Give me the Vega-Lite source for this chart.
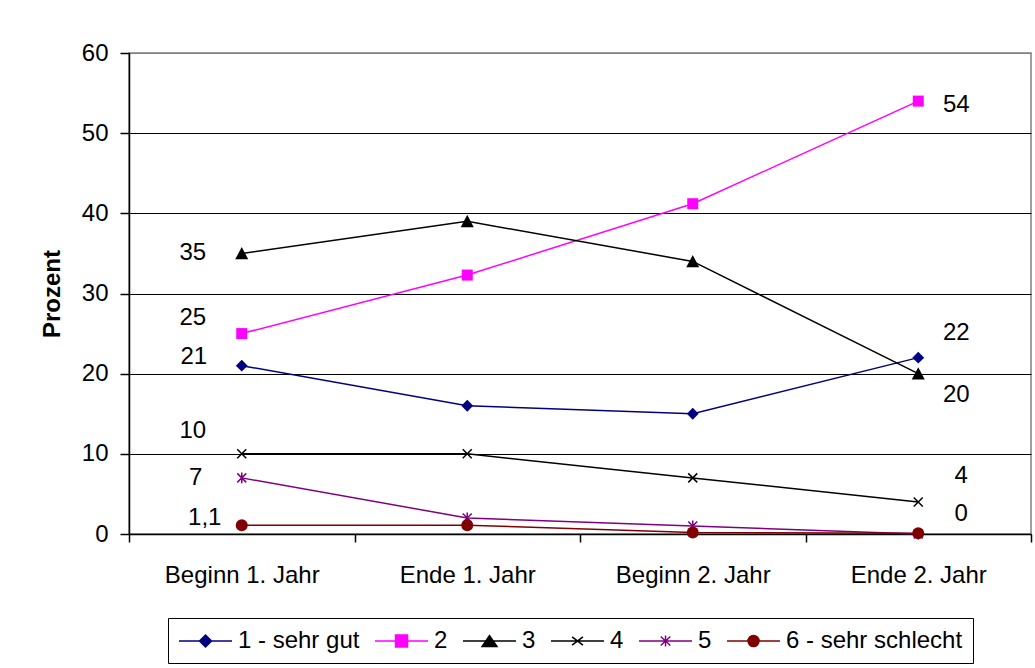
{
  "$schema": "https://vega.github.io/schema/vega-lite/v6.json",
  "autosize": {"type": "none"},
  "width": 902,
  "height": 481,
  "padding": {"left": 129, "top": 53, "right": 4, "bottom": 134},
  "background": "white",
  "datasets": {
    "main": [
      {"period": "Beginn 1. Jahr", "series": "1 - sehr gut", "value": 21},
      {"period": "Ende 1. Jahr", "series": "1 - sehr gut", "value": 16},
      {"period": "Beginn 2. Jahr", "series": "1 - sehr gut", "value": 15},
      {"period": "Ende 2. Jahr", "series": "1 - sehr gut", "value": 22},
      {"period": "Beginn 1. Jahr", "series": "2", "value": 25},
      {"period": "Ende 1. Jahr", "series": "2", "value": 32.3},
      {"period": "Beginn 2. Jahr", "series": "2", "value": 41.2},
      {"period": "Ende 2. Jahr", "series": "2", "value": 54},
      {"period": "Beginn 1. Jahr", "series": "3", "value": 35},
      {"period": "Ende 1. Jahr", "series": "3", "value": 39},
      {"period": "Beginn 2. Jahr", "series": "3", "value": 34},
      {"period": "Ende 2. Jahr", "series": "3", "value": 20},
      {"period": "Beginn 1. Jahr", "series": "4", "value": 10},
      {"period": "Ende 1. Jahr", "series": "4", "value": 10},
      {"period": "Beginn 2. Jahr", "series": "4", "value": 7},
      {"period": "Ende 2. Jahr", "series": "4", "value": 4},
      {"period": "Beginn 1. Jahr", "series": "5", "value": 7},
      {"period": "Ende 1. Jahr", "series": "5", "value": 2},
      {"period": "Beginn 2. Jahr", "series": "5", "value": 1},
      {"period": "Ende 2. Jahr", "series": "5", "value": 0},
      {"period": "Beginn 1. Jahr", "series": "6 - sehr schlecht", "value": 1.1},
      {"period": "Ende 1. Jahr", "series": "6 - sehr schlecht", "value": 1.1},
      {"period": "Beginn 2. Jahr", "series": "6 - sehr schlecht", "value": 0.2},
      {"period": "Ende 2. Jahr", "series": "6 - sehr schlecht", "value": 0.1}
    ],
    "labels": [
      {"period": "Beginn 1. Jahr", "value": 35, "label": "35"},
      {"period": "Beginn 1. Jahr", "value": 25, "label": "25"},
      {"period": "Beginn 1. Jahr", "value": 21, "label": "21"},
      {"period": "Beginn 1. Jahr", "value": 10, "label": "10"},
      {"period": "Beginn 1. Jahr", "value": 7, "label": "7"},
      {"period": "Beginn 1. Jahr", "value": 1.1, "label": "1,1"},
      {"period": "Ende 2. Jahr", "value": 54, "label": "54"},
      {"period": "Ende 2. Jahr", "value": 22, "label": "22"},
      {"period": "Ende 2. Jahr", "value": 20, "label": "20"},
      {"period": "Ende 2. Jahr", "value": 4, "label": "4"},
      {"period": "Ende 2. Jahr", "value": 0, "label": "0"}
    ]
  },
  "encoding": {
    "x": {
      "field": "period",
      "type": "nominal",
      "sort": ["Beginn 1. Jahr", "Ende 1. Jahr", "Beginn 2. Jahr", "Ende 2. Jahr"],
      "scale": {"type": "band", "paddingInner": 0, "paddingOuter": 0},
      "axis": {
        "title": null,
        "labelAngle": 0,
        "grid": false,
        "tickBand": "extent",
        "tickSize": 8,
        "labelPadding": 21,
        "domainColor": "black",
        "tickColor": "black",
        "domainWidth": 1.5,
        "tickWidth": 1.5
      }
    },
    "y": {
      "field": "value",
      "type": "quantitative",
      "scale": {"domain": [0, 60], "nice": false},
      "axis": {
        "title": "Prozent",
        "values": [0, 10, 20, 30, 40, 50, 60],
        "grid": true,
        "gridColor": {"condition": {"test": "datum.value == 60", "value": "#808080"}, "value": "black"},
        "gridWidth": 1.2,
        "tickSize": 9,
        "labelPadding": 12,
        "domainColor": "black",
        "tickColor": "black",
        "domainWidth": 1.5,
        "tickWidth": 1.5,
        "titleFont": "Liberation Sans",
        "titleFontWeight": "bold",
        "titleFontSize": 24,
        "titlePadding": 17
      }
    }
  },
  "layer": [
    {
      "data": {"name": "main"},
      "mark": {"type": "line", "strokeWidth": 1.5},
      "encoding": {
        "color": {
          "field": "series",
          "type": "nominal",
          "scale": {
            "range": ["#000080", "#FF00FF", "#000000", "#000000", "#800080", "#800000"]
          },
          "legend": null
        }
      }
    },
    {
      "data": {"name": "main"},
      "transform": [{"filter": "datum.series == '1 - sehr gut'"}],
      "mark": {"type": "point", "shape": "M0,-1L1,0L0,1L-1,0Z", "size": 140, "filled": true, "color": "#000080", "opacity": 1}
    },
    {
      "data": {"name": "main"},
      "transform": [{"filter": "datum.series == '2'"}],
      "mark": {"type": "point", "shape": "M-1,-1H1V1H-1Z", "size": 121, "filled": true, "color": "#FF00FF", "opacity": 1}
    },
    {
      "data": {"name": "main"},
      "transform": [{"filter": "datum.series == '3'"}],
      "mark": {"type": "point", "shape": "M0,-1L1,0.9H-1Z", "size": 169, "filled": true, "color": "#000000", "opacity": 1}
    },
    {
      "data": {"name": "main"},
      "transform": [{"filter": "datum.series == '4'"}],
      "mark": {"type": "point", "shape": "M-1,-1L1,1M-1,1L1,-1", "size": 81, "filled": false, "color": "#000000", "strokeWidth": 1.5, "opacity": 1}
    },
    {
      "data": {"name": "main"},
      "transform": [{"filter": "datum.series == '5'"}],
      "mark": {"type": "point", "shape": "M-1,-1L1,1M-1,1L1,-1M0,-1.2V1.2", "size": 81, "filled": false, "color": "#800080", "strokeWidth": 1.5, "opacity": 1}
    },
    {
      "data": {"name": "main"},
      "transform": [{"filter": "datum.series == '6 - sehr schlecht'"}],
      "mark": {"type": "point", "shape": "circle", "size": 144, "filled": true, "color": "#800000", "opacity": 1}
    },
    {
      "data": {"name": "main"},
      "transform": [{"filter": "false"}],
      "mark": {"type": "point", "filled": true, "size": 576, "strokeWidth": 1.5, "opacity": 1},
      "encoding": {
        "shape": {
          "field": "series",
          "type": "nominal",
          "scale": {
            "domain": ["1 - sehr gut", "2", "3", "4", "5", "6 - sehr schlecht"],
            "range": [
              "M-1,0H3.42M1.21,-0.5L1.71,0L1.21,0.5L0.71,0Z",
              "M-1,0H3.42M0.71,-0.5H1.71V0.5H0.71Z",
              "M-1,0H3.42M1.21,-0.45L1.83,0.45H0.59Z",
              "M-1,0H3.42M0.76,-0.35L1.66,0.35M0.76,0.35L1.66,-0.35",
              "M-1,0H3.42M0.81,-0.38L1.61,0.38M0.81,0.38L1.61,-0.38M1.21,-0.45V0.45",
              "M-1,0H3.42M1.67,0A0.46,0.46 0 1,1 0.75,0A0.46,0.46 0 1,1 1.67,0Z"
            ]
          },
          "legend": {"title": null, "orient": "none", "legendX": 39, "legendY": 565, "direction": "horizontal"}
        },
        "fill": {
          "field": "series",
          "type": "nominal",
          "scale": {
            "domain": ["1 - sehr gut", "2", "3", "4", "5", "6 - sehr schlecht"],
            "range": ["#000080", "#FF00FF", "#000000", "#000000", "#800080", "#800000"]
          },
          "legend": {"title": null, "orient": "none", "legendX": 39, "legendY": 565, "direction": "horizontal"}
        },
        "stroke": {
          "field": "series",
          "type": "nominal",
          "scale": {
            "domain": ["1 - sehr gut", "2", "3", "4", "5", "6 - sehr schlecht"],
            "range": ["#000080", "#FF00FF", "#000000", "#000000", "#800080", "#800000"]
          },
          "legend": {"title": null, "orient": "none", "legendX": 39, "legendY": 565, "direction": "horizontal"}
        }
      }
    },
    {
      "data": {"name": "labels"},
      "transform": [{"filter": "datum.label == '35'"}],
      "mark": {"type": "text", "fontSize": 24, "align": "center", "baseline": "middle", "dx": -49, "dy": 0, "color": "black"},
      "encoding": {"text": {"field": "label"}}
    },
    {
      "data": {"name": "labels"},
      "transform": [{"filter": "datum.label == '25'"}],
      "mark": {"type": "text", "fontSize": 24, "align": "center", "baseline": "middle", "dx": -49, "dy": -16, "color": "black"},
      "encoding": {"text": {"field": "label"}}
    },
    {
      "data": {"name": "labels"},
      "transform": [{"filter": "datum.label == '21'"}],
      "mark": {"type": "text", "fontSize": 24, "align": "center", "baseline": "middle", "dx": -48, "dy": -9, "color": "black"},
      "encoding": {"text": {"field": "label"}}
    },
    {
      "data": {"name": "labels"},
      "transform": [{"filter": "datum.label == '10'"}],
      "mark": {"type": "text", "fontSize": 24, "align": "center", "baseline": "middle", "dx": -49, "dy": -23, "color": "black"},
      "encoding": {"text": {"field": "label"}}
    },
    {
      "data": {"name": "labels"},
      "transform": [{"filter": "datum.label == '7'"}],
      "mark": {"type": "text", "fontSize": 24, "align": "center", "baseline": "middle", "dx": -46, "dy": 0, "color": "black"},
      "encoding": {"text": {"field": "label"}}
    },
    {
      "data": {"name": "labels"},
      "transform": [{"filter": "datum.label == '1,1'"}],
      "mark": {"type": "text", "fontSize": 24, "align": "center", "baseline": "middle", "dx": -37, "dy": -7, "color": "black"},
      "encoding": {"text": {"field": "label"}}
    },
    {
      "data": {"name": "labels"},
      "transform": [{"filter": "datum.label == '54'"}],
      "mark": {"type": "text", "fontSize": 24, "align": "center", "baseline": "middle", "dx": 38, "dy": 4, "color": "black"},
      "encoding": {"text": {"field": "label"}}
    },
    {
      "data": {"name": "labels"},
      "transform": [{"filter": "datum.label == '22'"}],
      "mark": {"type": "text", "fontSize": 24, "align": "center", "baseline": "middle", "dx": 38, "dy": -25, "color": "black"},
      "encoding": {"text": {"field": "label"}}
    },
    {
      "data": {"name": "labels"},
      "transform": [{"filter": "datum.label == '20'"}],
      "mark": {"type": "text", "fontSize": 24, "align": "center", "baseline": "middle", "dx": 38, "dy": 21, "color": "black"},
      "encoding": {"text": {"field": "label"}}
    },
    {
      "data": {"name": "labels"},
      "transform": [{"filter": "datum.label == '4'"}],
      "mark": {"type": "text", "fontSize": 24, "align": "center", "baseline": "middle", "dx": 43, "dy": -26, "color": "black"},
      "encoding": {"text": {"field": "label"}}
    },
    {
      "data": {"name": "labels"},
      "transform": [{"filter": "datum.label == '0'"}],
      "mark": {"type": "text", "fontSize": 24, "align": "center", "baseline": "middle", "dx": 43, "dy": -20, "color": "black"},
      "encoding": {"text": {"field": "label"}}
    }
  ],
  "config": {
    "font": "Liberation Sans",
    "view": {"stroke": "#808080", "strokeWidth": 1.5},
    "axis": {
      "labelFont": "Liberation Sans",
      "labelFontSize": 24,
      "labelColor": "black",
      "titleColor": "black"
    },
    "legend": {
      "padding": 10,
      "strokeColor": "black",
      "fillColor": "white",
      "labelFont": "Liberation Sans",
      "labelFontSize": 24,
      "labelColor": "black",
      "labelLimit": 0,
      "labelOffset": 34,
      "columnPadding": 12,
      "symbolSize": 576,
      "symbolStrokeWidth": 1.5,
      "symbolOpacity": 1
    }
  }
}
